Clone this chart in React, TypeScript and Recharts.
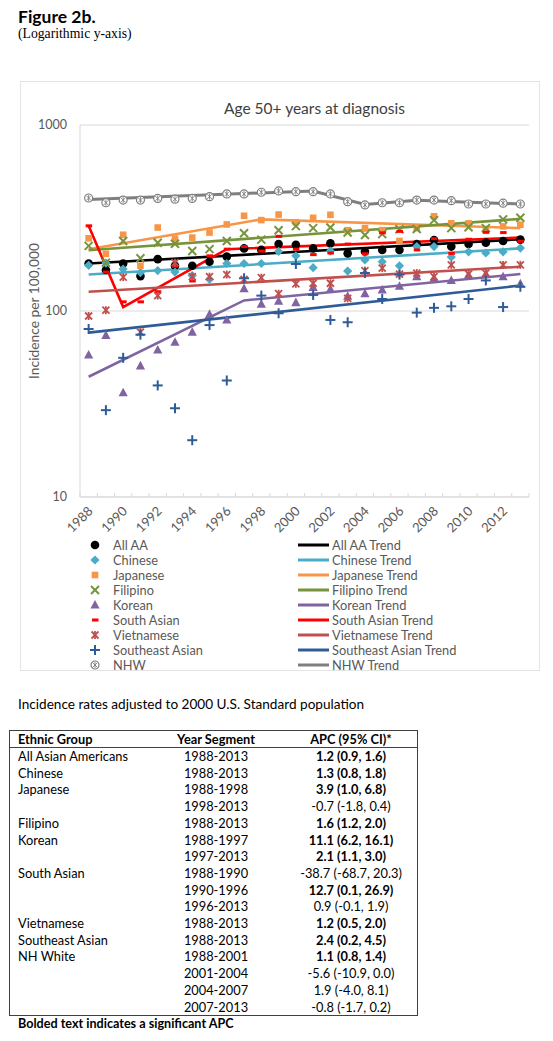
import React from 'react';
import { ComposedChart, Line, XAxis, YAxis, CartesianGrid } from 'recharts';

const years = [1988, 1989, 1990, 1991, 1992, 1993, 1994, 1995, 1996, 1997, 1998, 1999, 2000, 2001, 2002, 2003, 2004, 2005, 2006, 2007, 2008, 2009, 2010, 2011, 2012, 2013];

const allAA = [180, 166, 180, 154, 190, 175, 175, 184, 196, 217, 213, 229, 227, 217, 231, 204, 209, 213, 213, 229, 241, 222, 229, 233, 238, 242];
const chinese = [176, 181, 168, 161, 165, 162, 155, 148, 180, 180, 180, 209, 198, 171, 210, 164, 188, 184, 175, 222, 222, 195, 208, 205, 208, 218];
const japanese = [246, 203, 257, 175, 281, 245, 248, 264, 292, 325, 308, 330, 300, 317, 329, 272, 279, 272, 238, 279, 323, 296, 296, 272, 285, 291];
const filipino = [224, 182, 238, 192, 233, 230, 210, 215, 238, 262, 242, 272, 286, 279, 281, 264, 256, 259, 275, 276, 308, 279, 282, 279, 311, 317];
const korean = [58, 74, 36.4, 50.7, 61.7, 68, 77, 96, 89.5, 132, 109, 113, 111, 134, 131, 120, 124, 130, 136, 153, 150, 146, 156, 158, 153, 140];
const southAsian = [287, 162, 112, 112, 127, 174, 145, 198, 215, 222, 210, 252, 215, 201, 205, 229, 203, 263, 268, 213, 245, 204, 243, 265, 264, 237];
const vietnamese = [94, 101, 152, 77, 121, 182, 153, 153, 157, 148, 151, 124, 140, 141, 141, 117, 165, 170, 158, 160, 153, 177, 158, 160, 177, 177];
const seAsian = [80, 29.3, 56, 74.6, 39.8, 30, 20.2, 84, 42.3, 150, 121, 97.2, 179, 122, 89.5, 87, 160, 116, 157, 98, 104, 106, 116, 146, 105, 135];
const nhw = [405, 382, 395, 395, 403, 399, 403, 412, 426, 426, 435, 442, 438, 438, 426, 387, 372, 382, 382, 395, 395, 392, 376, 376, 380, 376];

// Joinpoint trend values (only at segment end years)
const allAATrend: Record<number, number> = { 1988: 180, 2013: 243 };
const chineseTrend: Record<number, number> = { 1988: 157, 2013: 217 };
const japaneseTrend: Record<number, number> = { 1988: 215, 1998: 311, 2013: 279 };
const filipinoTrend: Record<number, number> = { 1988: 212, 2013: 313 };
const koreanTrend: Record<number, number> = { 1988: 44.3, 1997: 114, 2013: 158 };
const southAsianTrend: Record<number, number> = { 1988: 287, 1990: 105, 1996: 215, 2013: 248 };
const vietnameseTrend: Record<number, number> = { 1988: 127, 2013: 173 };
const seAsianTrend: Record<number, number> = { 1988: 76.5, 2013: 137 };
const nhwTrend: Record<number, number> = { 1988: 398, 2001: 442, 2004: 374, 2007: 394, 2013: 376 };

const yTicks = [10, 100, 1000];

const tableRows = [
  ['Ethnic Group', 'Year Segment', 'APC (95% CI)*', 'h'],
  ['All Asian Americans', '1988-2013', '1.2 (0.9, 1.6)', 'b'],
  ['Chinese', '1988-2013', '1.3 (0.8, 1.8)', 'b'],
  ['Japanese', '1988-1998', '3.9 (1.0, 6.8)', 'b'],
  ['', '1998-2013', '-0.7 (-1.8, 0.4)', 'n'],
  ['Filipino', '1988-2013', '1.6 (1.2, 2.0)', 'b'],
  ['Korean', '1988-1997', '11.1 (6.2, 16.1)', 'b'],
  ['', '1997-2013', '2.1 (1.1, 3.0)', 'b'],
  ['South Asian', '1988-1990', '-38.7 (-68.7, 20.3)', 'n'],
  ['', '1990-1996', '12.7 (0.1, 26.9)', 'b'],
  ['', '1996-2013', '0.9 (-0.1, 1.9)', 'n'],
  ['Vietnamese', '1988-2013', '1.2 (0.5, 2.0)', 'b'],
  ['Southeast Asian', '1988-2013', '2.4 (0.2, 4.5)', 'b'],
  ['NH White', '1988-2001', '1.1 (0.8, 1.4)', 'b'],
  ['', '2001-2004', '-5.6 (-10.9, 0.0)', 'n'],
  ['', '2004-2007', '1.9 (-4.0, 8.1)', 'n'],
  ['', '2007-2013', '-0.8 (-1.7, 0.2)', 'n'],
];

const C = {
  aa: '#000000',
  chinese: '#4BACC6',
  japanese: '#F79646',
  filipino: '#77933C',
  korean: '#8064A2',
  southAsian: '#FF0000',
  vietnamese: '#C0504D',
  seAsian: '#2F5C98',
  nhw: '#7F7F7F',
};

const data = years.map((y, i) => ({
  year: String(y),
  allAA: allAA[i],
  chinese: chinese[i],
  japanese: japanese[i],
  filipino: filipino[i],
  korean: korean[i],
  southAsian: southAsian[i],
  vietnamese: vietnamese[i],
  seAsian: seAsian[i],
  nhw: nhw[i],
  allAATrend: allAATrend[y] ?? null,
  chineseTrend: chineseTrend[y] ?? null,
  japaneseTrend: japaneseTrend[y] ?? null,
  filipinoTrend: filipinoTrend[y] ?? null,
  koreanTrend: koreanTrend[y] ?? null,
  southAsianTrend: southAsianTrend[y] ?? null,
  vietnameseTrend: vietnameseTrend[y] ?? null,
  seAsianTrend: seAsianTrend[y] ?? null,
  nhwTrend: nhwTrend[y] ?? null,
}));

type Kind = 'circle' | 'diamond' | 'square' | 'x' | 'triangle' | 'dash' | 'star' | 'plus' | 'nhw';

function Marker({ kind, cx, cy, color }: { kind: Kind; cx: number; cy: number; color: string }) {
  switch (kind) {
    case 'circle':
      return <circle cx={cx} cy={cy} r={4.3} fill={color} />;
    case 'diamond':
      return <polygon points={`${cx},${cy - 4.6} ${cx + 4.6},${cy} ${cx},${cy + 4.6} ${cx - 4.6},${cy}`} fill={color} />;
    case 'square':
      return <rect x={cx - 3.3} y={cy - 3.3} width={6.6} height={6.6} fill={color} />;
    case 'x':
      return (
        <g stroke={color} strokeWidth={2}>
          <line x1={cx - 4} y1={cy - 4} x2={cx + 4} y2={cy + 4} />
          <line x1={cx - 4} y1={cy + 4} x2={cx + 4} y2={cy - 4} />
        </g>
      );
    case 'triangle':
      return <polygon points={`${cx},${cy - 5} ${cx + 4.6},${cy + 3.6} ${cx - 4.6},${cy + 3.6}`} fill={color} />;
    case 'dash':
      return <rect x={cx - 3} y={cy - 1.5} width={6.5} height={3} fill={color} />;
    case 'star':
      return (
        <g stroke={color} strokeWidth={1.8}>
          <line x1={cx - 3.5} y1={cy - 3.5} x2={cx + 3.5} y2={cy + 3.5} />
          <line x1={cx - 3.5} y1={cy + 3.5} x2={cx + 3.5} y2={cy - 3.5} />
          <line x1={cx} y1={cy - 4} x2={cx} y2={cy + 4} />
        </g>
      );
    case 'plus':
      return (
        <g stroke={color} strokeWidth={2}>
          <line x1={cx - 5} y1={cy} x2={cx + 5} y2={cy} />
          <line x1={cx} y1={cy - 5} x2={cx} y2={cy + 5} />
        </g>
      );
    case 'nhw':
      return (
        <g>
          <circle cx={cx} cy={cy} r={4} fill="#ffffff" stroke={color} strokeWidth={1.2} />
          <g stroke={color} strokeWidth={0.9}>
            <line x1={cx - 2.4} y1={cy - 2.4} x2={cx + 2.4} y2={cy + 2.4} />
            <line x1={cx - 2.4} y1={cy + 2.4} x2={cx + 2.4} y2={cy - 2.4} />
            <line x1={cx} y1={cy - 3} x2={cx} y2={cy + 3} />
          </g>
        </g>
      );
  }
  return null;
}

const dotRenderer = (kind: Kind, color: string) => (props: any) => {
  const { cx, cy, index, value } = props;
  if (cy == null || cx == null || value == null || isNaN(cy)) return <g key={`d-${kind}-${index}`} />;
  return (
    <g key={`d-${kind}-${index}`}>
      <Marker kind={kind} cx={cx} cy={cy} color={color} />
    </g>
  );
};

const FONT = 'Lato, "Open Sans", sans-serif';
const GREY = '#595959';
const HALF_STEP = 449 / 26 / 2;

const XTick = (props: any) => {
  const { x, y, payload } = props;
  const idx = payload && payload.index != null ? payload.index : props.index;
  const ax = x + 5;
  const ay = y + 15;
  const isLast = idx === years.length - 1;
  return (
    <g>
      <line x1={x - HALF_STEP} y1={y - 4} x2={x - HALF_STEP} y2={y} stroke="#d9d9d9" strokeWidth={1} />
      {isLast && <line x1={x + HALF_STEP} y1={y - 4} x2={x + HALF_STEP} y2={y} stroke="#d9d9d9" strokeWidth={1} />}
      {idx % 2 === 0 && (
        <text x={ax} y={ay} transform={`rotate(-45 ${ax} ${ay})`} textAnchor="end" fontSize={13} fill={GREY} fontFamily={FONT}>
          {payload.value}
        </text>
      )}
    </g>
  );
};

const series: { key: string; kind: Kind; color: string; label: string }[] = [
  { key: 'allAA', kind: 'circle', color: C.aa, label: 'All AA' },
  { key: 'chinese', kind: 'diamond', color: C.chinese, label: 'Chinese' },
  { key: 'japanese', kind: 'square', color: C.japanese, label: 'Japanese' },
  { key: 'filipino', kind: 'x', color: C.filipino, label: 'Filipino' },
  { key: 'korean', kind: 'triangle', color: C.korean, label: 'Korean' },
  { key: 'southAsian', kind: 'dash', color: C.southAsian, label: 'South Asian' },
  { key: 'vietnamese', kind: 'star', color: C.vietnamese, label: 'Vietnamese' },
  { key: 'seAsian', kind: 'plus', color: C.seAsian, label: 'Southeast Asian' },
  { key: 'nhw', kind: 'nhw', color: C.nhw, label: 'NHW' },
];

export default function App() {
  const rowY0 = 748;
  const rowH = 16.7;
  return (
    <div style={{ position: 'absolute', left: 0, top: 0, width: 553, height: 1041, background: '#fff', fontFamily: FONT, overflow: 'hidden' }}>
      <div style={{ position: 'absolute', left: 18, top: 6, fontSize: 17.5, fontWeight: 700, color: '#000', fontFamily: FONT }}>Figure 2b.</div>
      <div style={{ position: 'absolute', left: 18, top: 26, fontSize: 13.7, color: '#000', fontFamily: '"Liberation Serif", "DejaVu Serif", serif' }}>(Logarithmic y-axis)</div>

      <div style={{ position: 'absolute', left: 20, top: 81, width: 520, height: 590, border: '1px solid #e4e4e4', boxSizing: 'border-box' }} />

      <div style={{ position: 'absolute', left: 90, width: 449, top: 99, textAlign: 'center', fontSize: 15.5, color: '#404040', fontFamily: FONT }}>Age 50+ years at diagnosis</div>

      <div style={{ position: 'absolute', left: 0, top: 0 }}>
        <ComposedChart width={553} height={540} data={data} margin={{ top: 125, right: 24, bottom: 0, left: 30 }}>
          <CartesianGrid xAxisId="cat" yAxisId="y" vertical={false} stroke="#d9d9d9" strokeWidth={1} />
          <XAxis xAxisId="cat" dataKey="year" height={43} interval={0} padding={{ left: HALF_STEP, right: HALF_STEP }} tick={<XTick />} tickLine={false} tickSize={0} tickMargin={0} axisLine={{ stroke: '#d9d9d9' }} />
          <YAxis yAxisId="y" scale="log" domain={[10, 1000]} ticks={yTicks} allowDataOverflow width={50} tickLine={false} tickSize={0} tickMargin={13} axisLine={{ stroke: '#d9d9d9' }}
            tick={{ fontSize: 12.5, fill: GREY, fontFamily: FONT }}
            label={{ value: 'Incidence per 100,000', angle: -90, position: 'insideLeft', offset: 4, style: { textAnchor: 'middle', fontSize: 13.8, fill: GREY, fontFamily: FONT } }} />
          {series.map((s) => [
            <Line key={s.key} xAxisId="cat" yAxisId="y" dataKey={s.key} stroke="none" strokeWidth={0} isAnimationActive={false} dot={dotRenderer(s.kind, s.color)} activeDot={false} legendType="none" />,
            <Line key={s.key + 'Trend'} xAxisId="cat" yAxisId="y" dataKey={s.key + 'Trend'} stroke={s.color} strokeWidth={s.key === 'nhw' ? 3 : 2.6} connectNulls dot={false} activeDot={false} isAnimationActive={false} />,
          ])}
        </ComposedChart>
      </div>

      {series.map((s, i) => (
        <div key={'lg' + s.key}>
          <svg style={{ position: 'absolute', left: 88, top: 538 + i * 15 }} width={14} height={14}>
            <Marker kind={s.kind} cx={7} cy={7} color={s.color} />
          </svg>
          <div style={{ position: 'absolute', left: 113, top: 537 + i * 15, fontSize: 12.8, color: GREY, lineHeight: '16px', whiteSpace: 'nowrap' }}>{s.label}</div>
          <svg style={{ position: 'absolute', left: 298, top: 538 + i * 15 }} width={32} height={14}>
            <line x1={0} y1={7} x2={31} y2={7} stroke={s.color} strokeWidth={3} />
          </svg>
          <div style={{ position: 'absolute', left: 332, top: 537 + i * 15, fontSize: 12.8, color: GREY, lineHeight: '16px', whiteSpace: 'nowrap' }}>{s.label + ' Trend'}</div>
        </div>
      ))}

      <div style={{ position: 'absolute', left: 18, top: 696, fontSize: 13.6, color: '#000', whiteSpace: 'nowrap' }}>Incidence rates adjusted to 2000 U.S. Standard population</div>

      <div style={{ position: 'absolute', left: 9, top: 730, width: 409, height: 286, border: '1px solid #404040', boxSizing: 'border-box' }} />
      <div style={{ position: 'absolute', left: 9, top: 747, width: 409, height: 1, background: '#404040' }} />
      {tableRows.map((r, i) => {
        const top = i === 0 ? 731 : rowY0 + (i - 1) * rowH;
        const head = r[3] === 'h';
        const boldApc = r[3] === 'b' || head;
        return (
          <div key={'tr' + i} style={{ position: 'absolute', left: 0, top, width: 553, height: 17, fontSize: 12.8, color: '#000', lineHeight: '17px', whiteSpace: 'nowrap' }}>
            <span style={{ position: 'absolute', left: 18, fontWeight: head ? 700 : 400 }}>{r[0]}</span>
            <span style={{ position: 'absolute', left: 136, width: 160, textAlign: 'center', fontWeight: head ? 700 : 400 }}>{r[1]}</span>
            <span style={{ position: 'absolute', left: 271, width: 160, textAlign: 'center', fontWeight: boldApc ? 700 : 400 }}>{r[2]}</span>
          </div>
        );
      })}
      <div style={{ position: 'absolute', left: 18, top: 1016, fontSize: 12.6, fontWeight: 700, color: '#000', whiteSpace: 'nowrap' }}>Bolded text indicates a significant APC</div>
    </div>
  );
}
